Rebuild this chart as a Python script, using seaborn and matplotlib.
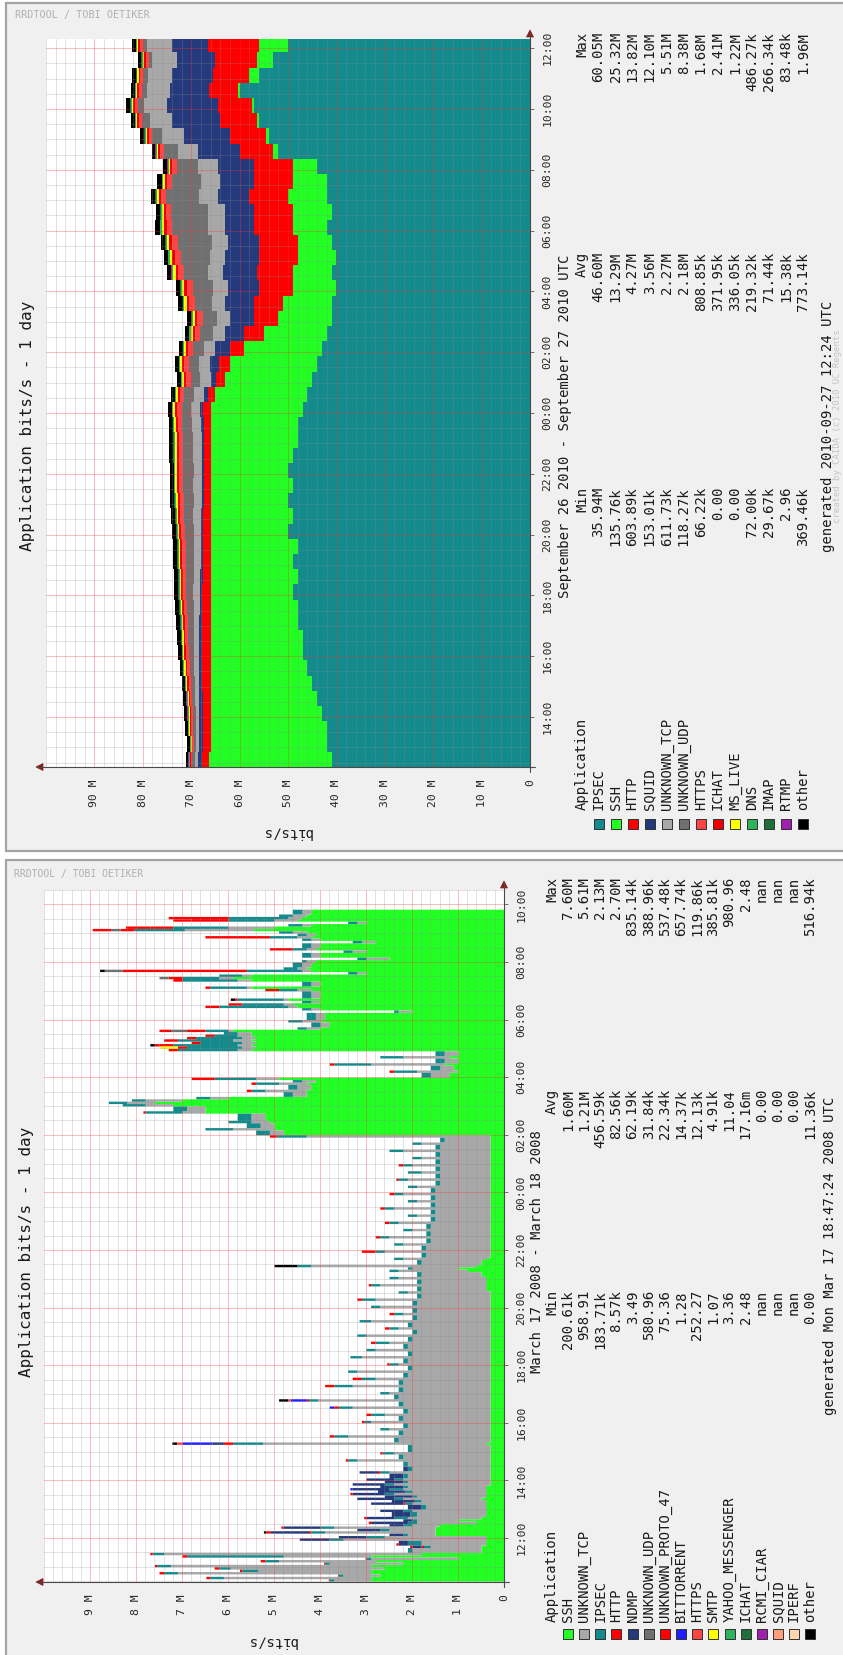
import numpy as np
import matplotlib
matplotlib.use("Agg")
import matplotlib.pyplot as plt
import seaborn as sns
from matplotlib.patches import Rectangle, Polygon
from matplotlib.lines import Line2D
from matplotlib.ticker import MultipleLocator

sns.set_theme(style="white")
plt.rcParams["font.family"] = ["DejaVu Sans Mono", "DejaVu Sans"]

# ================= 2010 graph: Sep 26 12:22 -> Sep 27 12:18, 30-minute samples (Mbit/s) =================
top_start = 12.36          # hours since Sep 26 00:00
top_step = 0.5
top_names = ["IPSEC", "SSH", "HTTP", "SQUID", "UNKNOWN_TCP", "UNKNOWN_UDP", "HTTPS",
             "ICHAT", "MS_LIVE", "DNS", "IMAP", "RTMP", "other"]
top_min = ["35.94M", "135.76k", "603.89k", "153.01k", "611.73k", "118.27k", "66.22k",
           "0.00", "0.00", "72.00k", "29.67k", "2.96", "369.46k"]
top_avg = ["46.60M", "13.29M", "4.27M", "3.56M", "2.27M", "2.18M", "808.85k",
           "371.95k", "336.05k", "219.32k", "71.44k", "15.38k", "773.14k"]
top_max = ["60.05M", "25.32M", "13.82M", "12.10M", "5.51M", "8.38M", "1.68M",
           "2.41M", "1.22M", "486.27k", "266.34k", "83.48k", "1.96M"]

ipsec_2010 = [41, 42, 42, 43, 44, 45, 46, 47, 47, 48, 48, 49, 48, 49, 48, 50,
              49, 50, 49, 50, 49, 48, 48, 47, 46, 45, 44, 43, 42, 41, 41, 40,
              41, 40, 41, 42, 41, 42, 42, 44, 52, 54, 56, 57, 60, 56, 53, 50]
ssh_2010 = [25.3, 24, 24, 23, 22, 21, 20, 19, 19, 18, 18, 17, 18, 17, 18, 16,
            17, 16, 17, 16, 17, 18, 18, 19, 19, 18, 18, 16, 13, 11, 10, 9,
            8, 8, 7, 7, 8, 8, 7, 5, 1.0, 0.5, 0.5, 0.5, 0.3, 2.0, 3.5, 6.0]
http_2010 = [1.5, 1.5, 1.6, 1.6, 1.6, 1.7, 1.8, 1.8, 1.8, 1.8, 1.7, 1.7, 1.6, 1.6, 1.5, 1.5,
             1.5, 1.4, 1.4, 1.3, 1.3, 1.3, 1.4, 1.5, 1.6, 1.8, 2.2, 3.0, 4.0, 5.0, 6.0, 7.0,
             7.5, 8.0, 8.0, 8.0, 8.0, 8.0, 8.0, 8.0, 7.0, 7.5, 7.5, 7.0, 6.0, 7.5, 8.5, 10.5]
squid_2010 = [0.8, 0.8, 0.7, 0.7, 0.7, 0.6, 0.6, 0.6, 0.5, 0.5, 0.5, 0.5, 0.5, 0.4, 0.4, 0.4,
              0.4, 0.4, 0.4, 0.4, 0.4, 0.4, 0.5, 0.6, 0.8, 1.2, 2.0, 3.0, 4.0, 5.0, 6.0, 6.5,
              7.0, 7.0, 6.5, 6.0, 6.0, 6.5, 7.0, 7.5, 8.5, 9.5, 10.0, 10.5, 8.0, 8.5, 8.0, 7.5]
utcp_2010 = [0.7, 0.7, 0.8, 0.8, 0.9, 0.9, 1.0, 1.1, 1.2, 1.2, 1.3, 1.4, 1.4, 1.5, 1.5, 1.6,
             1.7, 1.7, 1.8, 1.8, 1.9, 1.9, 1.9, 1.9, 2.0, 2.1, 2.2, 2.3, 2.5, 2.6, 2.8, 3.0,
             3.0, 3.2, 3.3, 3.5, 3.6, 3.8, 4.0, 4.0, 4.2, 4.5, 4.6, 4.8, 4.8, 5.0, 5.0, 5.2]
uudp_2010 = [0.5, 0.5, 0.6, 0.6, 0.7, 0.8, 0.9, 1.0, 1.1, 1.2, 1.3, 1.4, 1.5, 1.6, 1.7, 1.8,
             1.9, 2.0, 2.0, 2.1, 2.1, 2.1, 2.0, 2.0, 2.0, 2.0, 2.1, 2.3, 2.6, 3.0, 3.5, 4.2,
             5.0, 6.0, 7.0, 7.5, 7.5, 7.0, 6.0, 4.5, 3.0, 2.0, 1.5, 1.2, 1.0, 0.9, 0.8, 0.8]
https_2010 = [0.3, 0.3, 0.3, 0.4, 0.4, 0.5, 0.5, 0.6, 0.6, 0.6, 0.7, 0.7, 0.7, 0.8, 0.8, 0.8,
              0.8, 0.9, 0.9, 0.9, 0.9, 0.9, 0.9, 0.9, 0.9, 1.0, 1.0, 1.0, 1.1, 1.1, 1.1, 1.2,
              1.2, 1.2, 1.2, 1.1, 1.1, 1.0, 1.0, 0.9, 0.8, 0.8, 0.7, 0.7, 0.7, 0.6, 0.6, 0.6]
ichat_2010 = [0.1, 0.1, 0.2, 0.2, 0.2, 0.3, 0.3, 0.3, 0.3, 0.4, 0.4, 0.4, 0.4, 0.4, 0.4, 0.4,
              0.4, 0.4, 0.4, 0.4, 0.4, 0.4, 0.4, 0.4, 0.4, 0.4, 0.4, 0.4, 0.5, 0.5, 0.5, 0.5,
              0.5, 0.5, 0.5, 0.5, 0.4, 0.4, 0.4, 0.4, 0.3, 0.3, 0.3, 0.3, 0.3, 0.3, 0.3, 0.3]
mslive_2010 = [0.1, 0.1, 0.2, 0.2, 0.2, 0.2, 0.3, 0.3, 0.3, 0.3, 0.3, 0.3, 0.3, 0.3, 0.3, 0.3,
               0.3, 0.4, 0.4, 0.4, 0.4, 0.4, 0.4, 0.4, 0.4, 0.4, 0.4, 0.4, 0.4, 0.4, 0.5, 0.5,
               0.5, 0.5, 0.5, 0.5, 0.4, 0.4, 0.4, 0.3, 0.3, 0.3, 0.3, 0.3, 0.3, 0.3, 0.3, 0.3]
dns_2010 = [0.2, 0.2, 0.2, 0.2, 0.2, 0.2, 0.2, 0.2, 0.2, 0.2, 0.2, 0.2, 0.2, 0.2, 0.2, 0.2,
            0.2, 0.2, 0.2, 0.2, 0.2, 0.2, 0.2, 0.2, 0.2, 0.2, 0.2, 0.2, 0.3, 0.3, 0.3, 0.3,
            0.3, 0.3, 0.3, 0.3, 0.3, 0.2, 0.2, 0.2, 0.2, 0.2, 0.2, 0.2, 0.2, 0.2, 0.2, 0.2]
imap_2010 = [0.05, 0.05, 0.06, 0.06, 0.06, 0.07, 0.07, 0.07, 0.07, 0.08, 0.08, 0.08, 0.08, 0.08, 0.08, 0.08,
             0.08, 0.08, 0.08, 0.08, 0.07, 0.07, 0.07, 0.07, 0.06, 0.06, 0.06, 0.06, 0.06, 0.06, 0.07, 0.07,
             0.07, 0.08, 0.08, 0.08, 0.08, 0.08, 0.08, 0.08, 0.07, 0.07, 0.07, 0.07, 0.07, 0.07, 0.07, 0.07]
rtmp_2010 = [0.01, 0.01, 0.01, 0.02, 0.02, 0.02, 0.02, 0.02, 0.02, 0.02, 0.02, 0.02, 0.02, 0.02, 0.02, 0.02,
             0.02, 0.02, 0.02, 0.02, 0.02, 0.02, 0.01, 0.01, 0.01, 0.01, 0.01, 0.01, 0.01, 0.01, 0.01, 0.01,
             0.01, 0.01, 0.01, 0.01, 0.01, 0.01, 0.02, 0.02, 0.02, 0.02, 0.02, 0.02, 0.02, 0.02, 0.02, 0.02]
other_2010 = [0.6, 0.6, 0.6, 0.7, 0.7, 0.7, 0.7, 0.8, 0.8, 0.8, 0.8, 0.8, 0.8, 0.8, 0.8, 0.8,
              0.8, 0.8, 0.8, 0.8, 0.8, 0.8, 0.8, 0.8, 0.8, 0.8, 0.8, 0.8, 0.9, 0.9, 0.9, 0.9,
              0.9, 0.9, 0.9, 0.9, 0.9, 0.9, 0.9, 0.9, 0.8, 0.8, 0.8, 0.8, 0.8, 0.8, 0.8, 0.8]
top_colors = ["#138a8c", "#22ff22", "#ff0000", "#253a7d", "#a8a8a8", "#707070", "#ff4444",
              "#ee0000", "#ffff00", "#2db35c", "#1e7038", "#a020b0", "#000000"]

# ================= 2008 graph: Mar 17 10:30 -> Mar 18 09:50 (Mbit/s) =================
bot_origin = 10.5
bot_end = 33.8333
bot_names = ["SSH", "UNKNOWN_TCP", "IPSEC", "HTTP", "NDMP", "UNKNOWN_UDP", "UNKNOWN_PROTO_47",
             "BITTORRENT", "HTTPS", "SMTP", "YAHOO_MESSENGER", "ICHAT", "RCMI_CIAR", "SQUID",
             "IPERF", "other"]
bot_min = ["200.61k", "958.91", "183.71k", "8.57k", "3.49", "580.96", "75.36", "1.28", "252.27",
           "1.07", "3.36", "2.48", "nan", "nan", "nan", "0.00"]
bot_avg = ["1.60M", "1.21M", "456.59k", "82.56k", "62.19k", "31.84k", "22.34k", "14.37k", "12.13k",
           "4.91k", "11.04", "17.16m", "0.00", "0.00", "0.00", "11.36k"]
bot_max = ["7.60M", "5.61M", "2.13M", "2.70M", "835.14k", "388.96k", "537.48k", "657.74k",
           "119.86k", "385.81k", "980.96", "2.48", "nan", "nan", "nan", "516.94k"]

# level runs: each value holds from its start time until the next start time
run_start_2008 = [
    "10:30", "10:35", "10:40", "10:45", "10:50", "10:55", "11:00", "11:05", "11:10", "11:15", "11:20", "11:25",
    "11:30", "11:40", "11:45", "11:55", "12:00", "12:05", "12:10", "12:15", "12:20", "12:25",
    "12:30", "12:35", "12:40", "12:45", "12:55", "13:00", "13:10", "13:15", "13:20", "13:25",
    "13:30", "13:35", "13:40", "13:45", "13:50", "13:55", "14:00", "14:05", "14:15", "14:20",
    "14:30", "14:40", "14:45", "14:55", "15:00", "15:15", "15:20", "15:30", "15:35", "15:45",
    "15:50", "16:00", "16:05", "16:15", "16:20", "16:30", "16:35", "16:45", "16:50", "17:00",
    "17:05", "17:15", "17:20", "17:30", "17:35", "17:45", "17:50", "18:00", "18:05", "18:15",
    "18:20", "18:30", "18:35", "18:45", "18:50", "19:00", "19:05", "19:15", "19:20", "19:30",
    "19:35", "19:45", "19:50", "20:00", "20:05", "20:15", "20:20", "20:30", "20:35", "20:45",
    "20:50", "21:00", "21:05", "21:15", "21:20", "21:25", "21:30", "21:40", "21:45", "21:55",
    "22:00", "22:10", "22:15", "22:25", "22:30", "22:40", "22:45", "22:55", "23:00", "23:10",
    "23:15", "23:25", "23:30", "23:40", "23:45", "23:55", "00:00", "00:10", "00:15", "00:25",
    "00:30", "00:40", "00:45", "00:55", "01:00", "01:10", "01:15", "01:25", "01:30", "01:40",
    "01:45", "01:55",
    "02:00", "02:10", "02:15", "02:25", "02:30", "02:45", "02:50", "03:00", "03:05", "03:10",
    "03:15", "03:20", "03:30", "03:35", "03:45", "03:50", "03:55", "04:00", "04:10", "04:15",
    "04:25", "04:30", "04:40", "04:45", "04:55", "05:00", "05:05", "05:10", "05:15", "05:20",
    "05:25", "05:30", "05:35", "05:40", "05:45", "05:55", "06:00", "06:15", "06:20", "06:25",
    "06:30", "06:35", "06:40", "06:45", "07:00", "07:05", "07:10", "07:20", "07:25", "07:30",
    "07:35", "07:40", "07:45", "07:50", "08:00", "08:05", "08:10", "08:20", "08:25", "08:30",
    "08:40", "08:45", "08:50", "08:55", "09:00", "09:05", "09:10", "09:15", "09:20", "09:25",
    "09:30", "09:35", "09:40",
]
ssh_2008 = [
    2.9, 2.9, 2.7, 2.9, 2.9, 2.6, 2.9, 2.2, 2.8, 1.0, 2.9, 1.8,
    0.5, 0.5, 0.4, 0.4, 0.4, 1.5, 1.5, 1.5, 1.5, 1.4,
    0.6, 1.0, 0.5, 0.4, 0.4, 0.4, 0.4, 0.4, 0.5, 0.4,
    0.4, 0.4, 0.4, 0.4, 0.3, 0.3, 0.3, 0.3, 0.3, 0.3,
    0.3, 0.3, 0.3, 0.3, 0.3, 0.4, 0.3, 0.3, 0.3, 0.3,
    0.3, 0.3, 0.3, 0.3, 0.3, 0.3, 0.3, 0.3, 0.3, 0.3,
    0.3, 0.3, 0.3, 0.3, 0.3, 0.3, 0.3, 0.3, 0.3, 0.3,
    0.3, 0.3, 0.3, 0.3, 0.3, 0.3, 0.3, 0.3, 0.3, 0.3,
    0.3, 0.3, 0.3, 0.3, 0.3, 0.3, 0.3, 0.3, 0.4, 0.4,
    0.4, 0.4, 0.5, 0.8, 1.0, 0.6, 0.5, 0.4, 0.3, 0.3,
    0.3, 0.3, 0.3, 0.3, 0.3, 0.3, 0.3, 0.3, 0.3, 0.3,
    0.3, 0.3, 0.3, 0.3, 0.3, 0.3, 0.3, 0.3, 0.3, 0.3,
    0.3, 0.3, 0.3, 0.3, 0.3, 0.3, 0.3, 0.3, 0.3, 0.3,
    0.3, 0.3,
    4.8, 5.0, 5.0, 5.1, 5.2, 6.5, 6.5, 7.2, 7.6, 7.0,
    6.0, 4.3, 4.3, 4.2, 4.3, 4.1, 4.9, 1.2, 1.0, 1.1,
    1.3, 1.0, 1.2, 1.0, 5.5, 5.4, 5.5, 5.4, 5.5, 5.4,
    5.5, 5.5, 5.9, 4.0, 3.8, 4.0, 3.9, 2.0, 4.0, 4.5,
    4.6, 4.0, 4.7, 4.0, 4.2, 5.5, 4.0, 5.5, 5.9, 5.5,
    3.0, 4.2, 4.3, 4.2, 4.1, 2.5, 4.0, 3.0, 4.1, 4.0,
    2.8, 4.0, 4.2, 4.1, 4.3, 5.45, 5.0, 4.2, 3.0, 4.5,
    4.4, 4.3, 4.2,
]
utcp_2008 = [
    0.8, 3.2, 0.8, 4.2, 2.45, 3.35, 4.35, 1.6, 2.1, 1.9, 1.9, 5.6,
    1.5, 1.1, 1.4, 3.1, 2.2, 0.6, 2.4, 1.0, 2.2, 0.6,
    1.3, 0.9, 1.6, 1.5, 1.6, 1.3, 1.6, 1.4, 1.7, 1.5,
    2.0, 1.6, 1.8, 1.7, 2.1, 1.8, 1.9, 1.8, 2.2, 1.7,
    1.8, 2.9, 1.9, 2.1, 1.7, 4.85, 2.0, 3.1, 1.9, 2.2,
    1.8, 2.6, 1.9, 2.3, 1.8, 3.0, 1.9, 3.75, 2.0, 2.2,
    1.9, 3.0, 1.9, 2.5, 1.8, 2.9, 1.7, 2.0, 1.8, 2.8,
    1.7, 2.5, 1.8, 2.2, 1.7, 2.7, 1.6, 2.0, 1.7, 2.6,
    1.6, 1.9, 1.6, 2.4, 1.6, 2.5, 1.5, 1.8, 1.4, 2.3,
    1.4, 1.9, 1.3, 1.5, 1.0, 3.6, 1.3, 1.8, 1.4, 2.3,
    1.4, 1.9, 1.3, 2.2, 1.3, 1.7, 1.3, 2.0, 1.2, 1.6,
    1.2, 2.1, 1.2, 1.6, 1.2, 1.9, 1.2, 1.6, 1.1, 1.8,
    1.1, 1.5, 1.1, 1.7, 1.1, 1.5, 1.1, 1.9, 1.1, 1.5,
    1.0, 4.0,
    0.3, 0.9, 0.3, 0.4, 0.3, 0.5, 0.4, 0.6, 0.6, 0.8,
    0.4, 0.3, 0.9, 0.3, 0.6, 0.3, 0.5, 0.4, 0.9, 0.3,
    1.6, 0.3, 1.0, 0.3, 0.3, 0.3, 0.3, 0.3, 0.4, 0.3,
    0.3, 0.3, 0.1, 0.3, 0.2, 0.4, 0.2, 0.3, 0.2, 0.2,
    0.2, 0.2, 0.1, 0.2, 0.3, 0.1, 0.2, 0.3, 0.3, 0.2,
    0.2, 0.2, 0.2, 0.2, 0.2, 0.5, 0.2, 0.3, 0.2, 0.2,
    0.3, 0.2, 0.3, 0.2, 0.3, 1.5, 1.0, 0.2, 0.2, 0.5,
    0.3, 0.3, 0.2,
]
ipsec_2008 = [
    0.1, 0.3, 0.1, 0.3, 0.35, 0.25, 0.3, 0.1, 0.3, 0.1, 2.1, 0.25,
    0.1, 0.15, 0.3, 0.3, 0.4, 0.1, 0.3, 0.2, 0.3, 0.2,
    0.2, 0.1, 0.3, 0.15, 0.2, 0.1, 0.15, 0.15, 0.2, 0.1,
    0.2, 0.15, 0.3, 0.1, 0.2, 0.1, 0.2, 0.1, 0.2, 0.1,
    0.1, 0.2, 0.1, 0.25, 0.1, 0.65, 0.1, 0.3, 0.1, 0.2,
    0.1, 0.15, 0.1, 0.3, 0.1, 0.3, 0.1, 0.2, 0.1, 0.2,
    0.1, 0.4, 0.1, 0.3, 0.1, 0.2, 0.1, 0.2, 0.1, 0.25,
    0.1, 0.2, 0.1, 0.3, 0.1, 0.2, 0.1, 0.2, 0.1, 0.25,
    0.1, 0.2, 0.1, 0.2, 0.1, 0.3, 0.1, 0.2, 0.1, 0.2,
    0.1, 0.2, 0.1, 0.2, 0.1, 0.3, 0.1, 0.2, 0.1, 0.2,
    0.1, 0.2, 0.1, 0.2, 0.1, 0.2, 0.1, 0.2, 0.1, 0.2,
    0.1, 0.2, 0.1, 0.2, 0.1, 0.2, 0.1, 0.2, 0.1, 0.2,
    0.1, 0.3, 0.1, 0.2, 0.1, 0.2, 0.1, 0.3, 0.1, 0.2,
    0.1, 0.65,
    0.3, 0.6, 0.3, 0.5, 0.3, 0.8, 0.3, 0.5, 0.4, 0.3,
    0.3, 0.2, 0.3, 0.2, 0.5, 0.2, 0.9, 0.2, 0.5, 0.2,
    0.8, 0.2, 0.5, 0.2, 1.3, 1.2, 1.4, 0.9, 1.2, 1.0,
    0.5, 0.3, 0.5, 0.2, 0.2, 0.3, 0.2, 0.1, 0.2, 1.5,
    0.9, 0.2, 1.0, 0.2, 0.4, 0.8, 0.2, 1.2, 0.8, 0.5,
    0.2, 1.2, 0.3, 0.2, 0.1, 0.2, 0.2, 0.2, 0.3, 0.2,
    0.2, 0.2, 0.6, 0.2, 0.3, 1.1, 1.2, 0.3, 0.2, 1.0,
    1.3, 0.3, 0.2,
]
http_2008 = [
    0.02, 0.08, 0.02, 0.1, 0.05, 0.1, 0.05, 0.02, 0.1, 0.02, 0.1, 0.05,
    0, 0.05, 0, 0, 0, 0, 0.05, 0, 0, 0,
    0, 0, 0, 0, 0, 0, 0.05, 0, 0, 0,
    0, 0, 0, 0, 0, 0, 0, 0, 0.05, 0,
    0, 0.05, 0, 0.05, 0, 0.2, 0, 0.1, 0, 0,
    0, 0.05, 0, 0.1, 0, 0.1, 0, 0.05, 0, 0,
    0, 0.2, 0, 0.2, 0, 0, 0, 0.05, 0, 0,
    0, 0, 0, 0.1, 0, 0, 0, 0.1, 0, 0,
    0, 0.1, 0, 0, 0, 0.1, 0, 0, 0, 0.05,
    0, 0, 0, 0, 0, 0, 0, 0, 0, 0.3,
    0, 0, 0, 0.1, 0, 0, 0, 0.1, 0, 0,
    0, 0.1, 0, 0, 0, 0.1, 0, 0, 0, 0.05,
    0, 0, 0, 0.1, 0, 0, 0, 0, 0, 0,
    0, 0.15,
    0, 0, 0, 0, 0, 0.05, 0, 0, 0, 0,
    0, 0, 0.1, 0, 0.1, 0, 0.5, 0, 0.1, 0,
    0.1, 0, 0, 0, 0.2, 0.2, 0.3, 0.2, 0.3, 0.2,
    0.2, 0, 0.4, 0, 0, 0, 0, 0, 0, 0.2,
    0.3, 0, 0.05, 0, 0.3, 0.1, 0, 0.2, 0.3, 0,
    0, 2.7, 0, 0, 0, 0, 0, 0, 0.5, 0,
    0, 0, 1.4, 0, 0, 0.3, 0.5, 0, 0, 0.8,
    1.3, 0, 0,
]

# single 5-minute samples of the smaller applications
ndmp_2008_at = ["11:40", "11:45", "11:50", "11:55", "12:00", "12:05", "12:10", "12:15", "12:20",
                "12:25", "12:30", "12:35", "12:40", "12:45", "12:50", "12:55", "13:00", "13:05",
                "13:10", "13:15", "13:20", "13:25", "13:30", "13:35", "13:40", "13:45", "13:50",
                "13:55", "14:00", "14:05", "14:10", "14:15", "14:20", "14:25", "15:15"]
ndmp_2008_val = [0.2, 0.2, 0.2, 0.65, 0.6, 0.3, 0.83, 0.5, 0.8,
                 0.3, 0.8, 0.2, 0.6, 0.4, 0.4, 0.5, 0.3, 0.3,
                 0.7, 0.5, 0.8, 0.6, 0.7, 0.6, 0.8, 0.5, 0.7,
                 0.4, 0.6, 0.3, 0.3, 0.4, 0.1, 0.1, 0.25]
udp_2008_at = ["05:35", "07:25", "07:40", "09:05"]
udp_2008_val = [0.35, 0.2, 0.39, 0.2]
proto47_2008_at = ["11:40", "11:45", "12:10", "12:20", "12:30", "12:40", "13:30",
                   "05:05", "05:35", "06:25", "09:05", "09:10", "09:25"]
proto47_2008_val = [0.05, 0.05, 0.1, 0.05, 0.05, 0.05, 0.05,
                    0.1, 0.25, 0.1, 0.4, 0.53, 0.4]
bittorrent_2008_at = ["13:40", "15:15", "16:30", "16:45"]
bittorrent_2008_val = [0.05, 0.65, 0.1, 0.35]
https_2008_at = ["15:15", "16:45"]
https_2008_val = [0.12, 0.05]
smtp_2008_at = ["05:00"]
smtp_2008_val = [0.38]
yahoo_2008_at, yahoo_2008_val = [], []
ichat_2008_at, ichat_2008_val = [], []
rcmi_2008_at, rcmi_2008_val = [], []
squid_2008_at, squid_2008_val = [], []
iperf_2008_at, iperf_2008_val = [], []
other_2008_at = ["12:10", "15:15", "16:45", "21:25", "05:05", "06:40", "07:40"]
other_2008_val = [0.05, 0.1, 0.2, 0.5, 0.1, 0.1, 0.1]

bot_colors = ["#22ff22", "#a8a8a8", "#138a8c", "#ff0000", "#253a7d", "#707070", "#ff0000",
              "#2020ff", "#ff4444", "#ffff00", "#2db35c", "#1e7038", "#a020b0", "#ff9e7a",
              "#ffd6b0", "#000000"]


# ---------------- assemble the 2008 5-minute series ----------------
def clock(s):
    h, m = map(int, s.split(":"))
    t = h + m / 60
    return t + 24 if t < bot_origin - 1e-9 else t


n_slots = int(round((bot_end - bot_origin) * 12))
slot_t = bot_origin + np.arange(n_slots) / 12
run_t = np.array([clock(s) for s in run_start_2008])
run_idx = np.searchsorted(run_t, slot_t + 1e-6, side="right") - 1


def from_runs(vals):
    return np.asarray(vals, float)[run_idx]


def from_samples(at, vals):
    out = np.zeros(n_slots)
    for s, v in zip(at, vals):
        out[int(round((clock(s) - bot_origin) * 12))] += v
    return out


bot_values = [from_runs(ssh_2008), from_runs(utcp_2008), from_runs(ipsec_2008), from_runs(http_2008),
              from_samples(ndmp_2008_at, ndmp_2008_val), from_samples(udp_2008_at, udp_2008_val),
              from_samples(proto47_2008_at, proto47_2008_val),
              from_samples(bittorrent_2008_at, bittorrent_2008_val),
              from_samples(https_2008_at, https_2008_val), from_samples(smtp_2008_at, smtp_2008_val),
              from_samples(yahoo_2008_at, yahoo_2008_val), from_samples(ichat_2008_at, ichat_2008_val),
              from_samples(rcmi_2008_at, rcmi_2008_val), from_samples(squid_2008_at, squid_2008_val),
              from_samples(iperf_2008_at, iperf_2008_val), from_samples(other_2008_at, other_2008_val)]

top_values = [ipsec_2010, ssh_2010, http_2010, squid_2010, utcp_2010, uudp_2010, https_2010,
              ichat_2010, mslive_2010, dns_2010, imap_2010, rtmp_2010, other_2010]
top_times = top_start + top_step * np.arange(len(ipsec_2010))

# ---------------- canvas ----------------
W, H, DPI = 843, 1655, 100
fig = plt.figure(figsize=(W / DPI, H / DPI), dpi=DPI)
fig.patch.set_facecolor("white")


def fx(x):
    return x / W


def fy(y):
    return 1 - y / H


def ftext(x, y, s, **kw):
    kw.setdefault("color", "#1a1a1a")
    fig.text(fx(x), fy(y), s, **kw)


def fline(xs, ys, **kw):
    fig.add_artist(Line2D([fx(v) for v in xs], [fy(v) for v in ys],
                          transform=fig.transFigure, **kw))


def ftri(pts, color):
    fig.add_artist(Polygon([(fx(a), fy(b)) for a, b in pts], closed=True,
                           transform=fig.transFigure, facecolor=color, edgecolor=color, lw=0.5))


def draw_graph(g):
    # panel background
    y0, y1 = g["panel"]
    fig.add_artist(Rectangle((fx(6), fy(y1)), fx(W + 30) - fx(6), (y1 - y0) / H,
                             transform=fig.transFigure, facecolor="#f0f0f0",
                             edgecolor="#a4a4a4", lw=1.6, zorder=0))
    ftext(g["wm"][0], g["wm"][1], "RRDTOOL / TOBI OETIKER", fontsize=g["wm_size"],
          color="#b0b0b0", ha="left", va="center")

    px0, py0, px1, py1 = g["plot"]
    ax = fig.add_axes([fx(px0), fy(py1), (px1 - px0) / W, (py1 - py0) / H])
    ax.set_facecolor("white")

    # stacked areas, drawn as steps in time
    edges = np.append(g["times"], g["end"])
    base = np.zeros(len(edges))
    for vals, col in zip(g["values"], g["colors"]):
        v = np.asarray(vals, float)
        v = np.append(v, v[-1])
        if v.max() > 0:
            ax.fill_betweenx(edges, base, base + v, step="post", color=col, lw=0)
        base = base + v

    ax.set_xlim(g["vmax"], 0)
    ax.set_ylim(g["tlo"], g["thi"])
    vt = np.arange(0, g["vmax"], g["vmajor"])
    ax.set_xticks(vt, ["0" if t == 0 else f"{t:g} M" for t in vt])
    ax.xaxis.set_minor_locator(MultipleLocator(g["vminor"]))
    hrs = np.arange(np.ceil(g["tlo"] / 2) * 2, g["thi"], 2)
    ax.set_yticks(hrs, [f"{int(h) % 24:02d}:00" for h in hrs])
    ax.yaxis.set_minor_locator(MultipleLocator(0.5))
    ax.yaxis.tick_right()
    ax.set_axisbelow(False)
    ax.grid(which="minor", color="#8c8c8c", alpha=0.25, lw=0.72)
    ax.grid(which="major", color="#ff3030", alpha=0.32, lw=0.72)
    ax.tick_params(axis="x", which="major", direction="out", length=3, width=0.7,
                   color="#707070", labelsize=8.2, labelrotation=90, pad=g["xpad"])
    ax.tick_params(axis="y", which="major", direction="out", length=3, width=0.7,
                   color="#707070", labelsize=8.2, labelrotation=90, pad=g["ypad"])
    ax.tick_params(which="minor", length=0)
    for lab in ax.get_yticklabels():
        lab.set_va("center")
    for sp in ax.spines.values():
        sp.set_visible(False)

    # axis lines with arrow heads
    fline([37, px1 + 5], [py1, py1], color="#4a4a4a", lw=0.8)
    fline([px1, px1], [py1 + 5, py0 - 8], color="#4a4a4a", lw=0.8)
    ftri([(36, py1), (43, py1 - 3.5), (43, py1 + 3.5)], "#8b1c1c")
    ftri([(px1, py0 - 9), (px1 - 3.5, py0 - 2), (px1 + 3.5, py0 - 2)], "#8b1c1c")

    # titles
    ftext(g["title_x"], g["mid"], "Application bits/s - 1 day", fontsize=11.5,
          rotation=90, ha="center", va="center")
    ftext(g["ylab"][0], g["ylab"][1], "bits/s", fontsize=10, rotation=180,
          ha="center", va="center")
    ftext(g["date_x"], g["mid"], g["date"], fontsize=10, rotation=90, ha="center", va="center")

    # legend table
    hx = g["head_x"]
    ftext(hx, g["name_y"], "Application", fontsize=10, rotation=90, ha="center", va="bottom")
    for lab, yt in zip(["Min", "Avg", "Max"], g["col_y"]):
        ftext(hx, yt, lab, fontsize=10, rotation=90, ha="center", va="top")
    for k, name in enumerate(g["names"]):
        x = g["row_x0"] + g["row_dx"] * k
        ftext(x, g["name_y"], name, fontsize=10, rotation=90, ha="center", va="bottom")
        for col, yt in zip([g["mins"], g["avgs"], g["maxs"]], g["col_y"]):
            ftext(x, yt, col[k], fontsize=10, rotation=90, ha="center", va="top")
        bs = 10
        fig.add_artist(Rectangle((fx(x - bs / 2), fy(g["box_y"] + bs / 2)), bs / W, bs / H,
                                 transform=fig.transFigure, facecolor=g["colors"][k],
                                 edgecolor="#303030", lw=0.7))
    ftext(g["gen_x"], g["gen_mid"], g["gen"], fontsize=10, rotation=90, ha="center", va="center")
    if g.get("credit"):
        ftext(g["credit_x"], g["gen_mid"], g["credit"], fontsize=6.5, rotation=90,
              ha="center", va="center", color="#c4c4c4")


top_graph = dict(
    panel=(3, 851), wm=(15, 15), wm_size=7.3, plot=(46, 39, 530, 767),
    values=top_values, colors=top_colors, times=top_times, end=36.30,
    vmax=100, vmajor=10, vminor=2, tlo=12.356, thi=36.30, xpad=6, ypad=6,
    title_x=28, mid=426, ylab=(287, 832), date_x=565,
    date="September 26 2010 - September 27 2010 UTC",
    head_x=582, name_y=810, col_y=(487, 252, 32), row_x0=598.5, row_dx=17.05, box_y=824,
    names=top_names, mins=top_min, avgs=top_avg, maxs=top_max,
    gen_x=828, gen_mid=426, gen="generated 2010-09-27 12:24 UTC",
    credit="created by CAIDA (c) 2010 UC Regents", credit_x=837,
)
bot_graph = dict(
    panel=(860, 1700), wm=(14, 874), wm_size=7.0, plot=(44, 890, 504, 1582),
    values=bot_values, colors=bot_colors, times=slot_t, end=bot_end,
    vmax=10, vmajor=1, vminor=0.2, tlo=10.47, thi=34.5, xpad=6, ypad=6,
    title_x=27, mid=1252, ylab=(272, 1642), date_x=537,
    date="March 17 2008 - March 18 2008",
    head_x=552, name_y=1622, col_y=(1290, 1089, 877), row_x0=568, row_dx=16.15, box_y=1634,
    names=bot_names, mins=bot_min, avgs=bot_avg, maxs=bot_max,
    gen_x=830, gen_mid=1256, gen="generated Mon Mar 17 18:47:24 2008 UTC",
)

draw_graph(top_graph)
draw_graph(bot_graph)

fig.savefig("out.png", dpi=DPI, facecolor="white")
